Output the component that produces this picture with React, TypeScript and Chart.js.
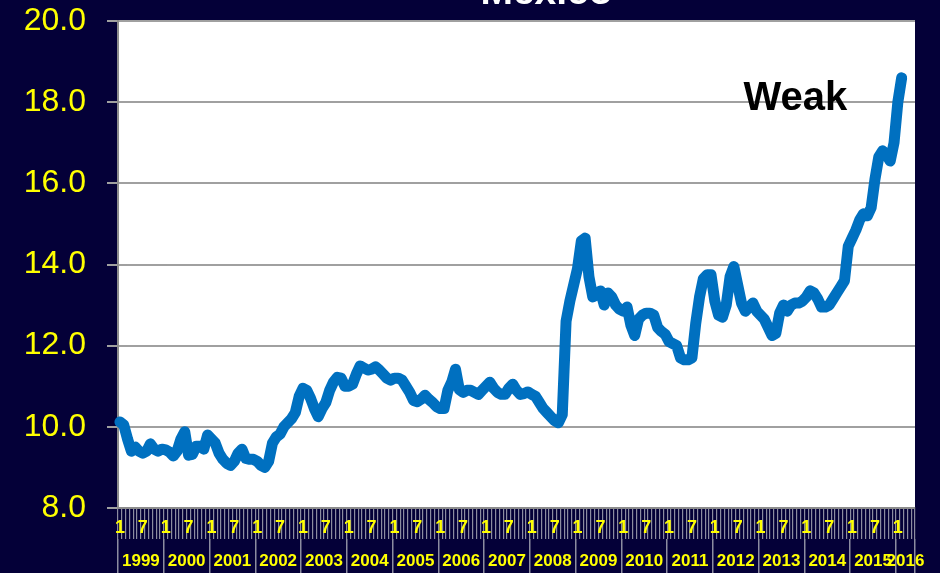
import React, { useEffect, useRef } from 'react';
import { Chart, registerables } from 'chart.js';

Chart.register(...registerables);

// ---- data ----
const YEARS = [1999, 2000, 2001, 2002, 2003, 2004, 2005, 2006, 2007, 2008, 2009, 2010, 2011, 2012, 2013, 2014, 2015, 2016];
const LAST_YEAR_MONTHS = 5; // axis runs Jan 1999 .. May 2016
const LABELLED_MONTHS = [1, 7];
const Y_MIN = 8;
const Y_MAX = 20;
const Y_STEP = 2;
const TITLE = 'Mexico';
const NOTE = 'Weak';
const NOTE_AT_MONTH = 163.5;
const NOTE_AT_VALUE = 17.8;

// Peso per US dollar, monthly, Jan 1999 .. Feb 2016
const RATE = [
  10.12, 10.05, 9.7, 9.4, 9.5, 9.4, 9.35, 9.4, 9.58, 9.45, 9.4, 9.45,
  9.43, 9.38, 9.28, 9.4, 9.7, 9.88, 9.3, 9.32, 9.52, 9.52, 9.45, 9.8,
  9.7, 9.6, 9.35, 9.2, 9.1, 9.05, 9.15, 9.35, 9.45, 9.22, 9.2, 9.2,
  9.15, 9.05, 9.0, 9.15, 9.6, 9.75, 9.82, 10.0, 10.1, 10.2, 10.35, 10.75,
  10.95, 10.9, 10.7, 10.45, 10.25, 10.45, 10.6, 10.9, 11.1, 11.22, 11.2, 11.0,
  11.0, 11.05, 11.3, 11.5, 11.45, 11.4, 11.42, 11.48, 11.4, 11.3, 11.2, 11.15,
  11.2, 11.2, 11.15, 11.0, 10.85, 10.65, 10.62, 10.68, 10.78, 10.68, 10.6, 10.5,
  10.45, 10.45, 10.9, 11.1, 11.42, 10.92, 10.85, 10.9, 10.9, 10.85, 10.8, 10.9,
  11.0, 11.1, 10.95, 10.85, 10.8, 10.8, 10.95, 11.05, 10.9, 10.8, 10.82, 10.86,
  10.8, 10.75, 10.6, 10.45, 10.35, 10.25, 10.15, 10.1, 10.3, 12.6, 13.1, 13.5,
  13.9, 14.58, 14.65, 13.7, 13.2, 13.25, 13.35, 13.0, 13.3, 13.2, 13.0, 12.9,
  12.85, 12.95, 12.5, 12.25, 12.65, 12.75, 12.8, 12.8, 12.75, 12.45, 12.35, 12.28,
  12.1, 12.05, 12.0, 11.7, 11.65, 11.65, 11.7, 12.55, 13.2, 13.65, 13.75, 13.75,
  13.1, 12.75, 12.7, 13.0, 13.7, 13.95, 13.5, 13.05, 12.85, 12.95, 13.05, 12.85,
  12.75, 12.65, 12.45, 12.25, 12.3, 12.8, 13.0, 12.85, 13.0, 13.05, 13.05, 13.1,
  13.2, 13.35, 13.3, 13.15, 12.95, 12.95, 13.0, 13.15, 13.3, 13.45, 13.6, 14.45,
  14.65, 14.85, 15.1, 15.25, 15.2, 15.4, 16.1, 16.65, 16.8, 16.7, 16.55, 17.0,
  18.0, 18.6,
];

// ---- derived categories ----
type Cat = { year: number; month: number };
const CATEGORIES: Cat[] = [];
YEARS.forEach((year, k) => {
  const n = k === YEARS.length - 1 ? LAST_YEAR_MONTHS : 12;
  for (let m = 1; m <= n; m++) CATEGORIES.push({ year, month: m });
});
const LABELS = CATEGORIES.map((c) => `${c.year}-${String(c.month).padStart(2, '0')}`);
const N = CATEGORIES.length;

type YearTick = { value: number; label: string; boundary: boolean };
const YEAR_TICKS: YearTick[] = [];
YEARS.forEach((year) => {
  const start = CATEGORIES.findIndex((c) => c.year === year);
  const count = CATEGORIES.filter((c) => c.year === year).length;
  YEAR_TICKS.push({ value: start - 0.5, label: '', boundary: true });
  YEAR_TICKS.push({ value: start + count / 2 - 0.5, label: String(year), boundary: false });
});
YEAR_TICKS.push({ value: N - 0.5, label: '', boundary: true });

// ---- styles ----
const NAVY = '#040038';
const YELLOW = '#FFFF00';
const LINE_BLUE = '#0070C0';
const FONT = "Arial, 'Liberation Sans', sans-serif";

const decor = {
  id: 'decor',
  beforeDraw(chart: any) {
    const { ctx, chartArea: a, width, height } = chart;
    ctx.save();
    ctx.fillStyle = NAVY;
    ctx.fillRect(0, 0, width, height);
    ctx.fillStyle = '#ffffff';
    ctx.fillRect(a.left, a.top, a.right - a.left, a.bottom - a.top);
    ctx.restore();
  },
  afterDraw(chart: any) {
    const { ctx, chartArea: a } = chart;
    ctx.save();
    ctx.fillStyle = '#ffffff';
    ctx.font = `bold 39px ${FONT}`;
    ctx.textAlign = 'center';
    ctx.textBaseline = 'alphabetic';
    ctx.fillText(TITLE, (a.left + a.right) / 2 + 30, a.top - 17);

    const xs = chart.scales.x2;
    const ys = chart.scales.y;
    ctx.fillStyle = '#000000';
    ctx.font = `bold 40px ${FONT}`;
    ctx.textAlign = 'left';
    ctx.fillText(NOTE, xs.getPixelForValue(NOTE_AT_MONTH), ys.getPixelForValue(NOTE_AT_VALUE));
    ctx.restore();
  },
};

export default function App() {
  const ref = useRef<HTMLCanvasElement | null>(null);

  useEffect(() => {
    document.body.style.margin = '0';
    document.body.style.background = NAVY;
    const canvas = ref.current;
    if (!canvas) return;
    const chart = new Chart(canvas, {
      type: 'line',
      data: {
        labels: LABELS,
        datasets: [
          {
            data: RATE,
            borderColor: LINE_BLUE,
            borderWidth: 11,
            pointRadius: 0,
            tension: 0,
            borderJoinStyle: 'round',
            borderCapStyle: 'round',
            fill: false,
          },
        ],
      },
      options: {
        responsive: false,
        animation: false,
        devicePixelRatio: 1,
        layout: { padding: { top: 21, right: 25, left: 0, bottom: 0 } },
        plugins: {
          legend: { display: false },
          tooltip: { enabled: false },
          title: { display: false },
        },
        scales: {
          y: {
            min: Y_MIN,
            max: Y_MAX,
            ticks: {
              stepSize: Y_STEP,
              color: YELLOW,
              font: { family: FONT, size: 32 },
              padding: 21,
              callback: (v: any) => Number(v).toFixed(1),
            },
            grid: { color: '#a0a0a0', lineWidth: 2, tickLength: 11 },
            border: { color: '#8c8c8c', width: 2 },
            afterFit: (s: any) => {
              s.width = 118;
              s.paddingTop = 0;
              s.paddingBottom = 0;
            },
          },
          x: {
            type: 'category',
            offset: true,
            weight: 0,
            grid: {
              offset: true,
              drawOnChartArea: false,
              tickLength: 31,
              color: '#8c8ca0',
              lineWidth: 1.2,
            },
            border: { color: '#8c8c8c', width: 2 },
            ticks: {
              autoSkip: false,
              maxRotation: 0,
              minRotation: 0,
              color: YELLOW,
              font: { family: FONT, size: 18, weight: 'bold' },
              padding: -22,
              callback: (_v: any, i: number) => {
                const m = CATEGORIES[i].month;
                return LABELLED_MONTHS.includes(m) ? String(m) : '';
              },
            },
            afterFit: (s: any) => {
              s.height = 31;
            },
          },
          x2: {
            type: 'linear',
            position: 'bottom',
            weight: 1,
            min: -0.5,
            max: N - 0.5,
            afterBuildTicks: (s: any) => {
              s.ticks = YEAR_TICKS.map((t) => ({ value: t.value }));
            },
            ticks: {
              autoSkip: false,
              maxRotation: 0,
              minRotation: 0,
              color: YELLOW,
              font: { family: FONT, size: 17, weight: 'bold' },
              padding: -22,
              callback: (v: any) => {
                const t = YEAR_TICKS.find((yt) => Math.abs(yt.value - Number(v)) < 1e-6);
                return t ? t.label : '';
              },
            },
            grid: {
              drawOnChartArea: false,
              tickLength: 34,
              lineWidth: 1.5,
              color: (ctx: any) => {
                const v = ctx.tick ? ctx.tick.value : NaN;
                const t = YEAR_TICKS.find((yt) => Math.abs(yt.value - v) < 1e-6);
                return t && t.boundary ? '#8c8ca0' : 'rgba(0,0,0,0)';
              },
            },
            border: { display: false },
            afterFit: (s: any) => {
              s.height = 34;
            },
          },
        },
      },
      plugins: [decor],
    } as any);
    return () => chart.destroy();
  }, []);

  return <canvas ref={ref} width={940} height={573} style={{ display: 'block' }} />;
}
